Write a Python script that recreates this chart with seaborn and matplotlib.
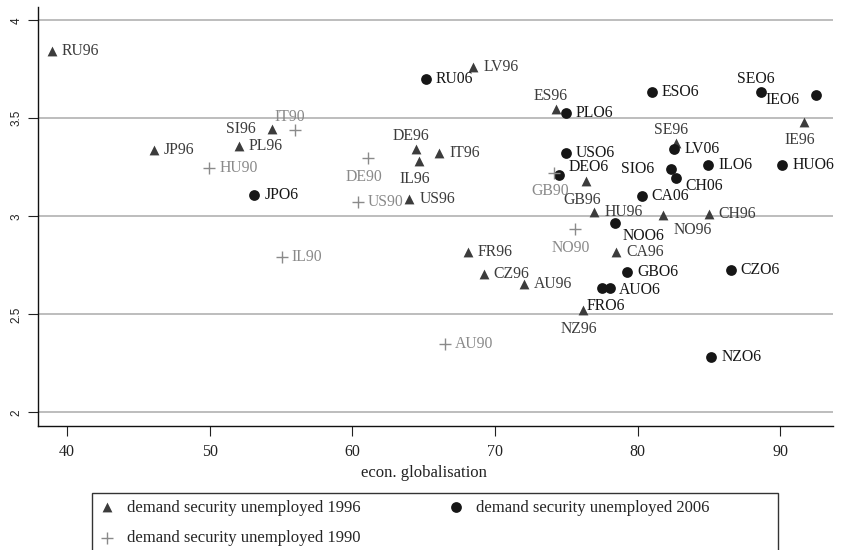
import matplotlib
matplotlib.use("Agg")
import matplotlib.pyplot as plt
import seaborn as sns
import pandas as pd
from matplotlib.patches import Rectangle

# 1996 observations (triangles)
labels_96 = ["RU96", "JP96", "SI96", "PL96", "LV96", "ES96", "DE96", "IL96", "IT96", "US96",
             "SE96", "IE96", "GB96", "HU96", "NO96", "CH96", "CA96", "FR96", "CZ96", "AU96", "NZ96"]
glob_96 = [38.93, 46.07, 54.39, 52.03, 68.48, 74.27, 64.46, 64.69, 66.09, 63.99,
           82.68, 91.67, 76.37, 76.95, 81.79, 84.99, 78.5, 68.08, 69.2, 72.05, 76.16]
demand_96 = [3.845, 3.338, 3.445, 3.359, 3.763, 3.546, 3.342, 3.284, 3.321, 3.087,
             3.372, 3.483, 3.18, 3.023, 3.007, 3.013, 2.819, 2.818, 2.707, 2.653, 2.522]

# 2006 observations (circles)
labels_06 = ["JPO6", "RU06", "PLO6", "ESO6", "SEO6", "IEO6", "USO6", "DEO6", "LV06", "SIO6",
             "CH06", "ILO6", "HUO6", "CA06", "NOO6", "GBO6", "CZO6", "AUO6", "FRO6", "NZO6"]
glob_06 = [53.13, 65.16, 74.97, 80.97, 88.63, 92.49, 74.97, 74.5, 82.58, 82.37,
           82.68, 84.94, 90.15, 80.27, 78.38, 79.26, 86.53, 77.51, 78.05, 85.17]
demand_06 = [3.109, 3.702, 3.526, 3.633, 3.633, 3.617, 3.325, 3.211, 3.342, 3.241,
             3.194, 3.26, 3.26, 3.104, 2.967, 2.717, 2.724, 2.636, 2.636, 2.284]

# 1990 observations (plus signs)
labels_90 = ["IT90", "HU90", "DE90", "US90", "GB90", "NO90", "IL90", "AU90"]
glob_90 = [55.98, 49.97, 61.11, 60.37, 74.13, 75.6, 55.04, 66.49]
demand_90 = [3.44, 3.245, 3.297, 3.071, 3.223, 2.935, 2.79, 2.348]

X_TICKS = [40, 50, 60, 70, 80, 90]
Y_TICKS = [2, 2.5, 3, 3.5, 4]
Y_TICK_LABELS = ["2", "2.5", "3", "3.5", "4"]

# label placement (clock position style), default is right of marker
LABEL_POS = {
    "SI96": "9", "ES96": "12", "DE96": "12", "IL96": "6", "SE96": "12", "IE96": "6",
    "GB96": "6", "NO96": "se2", "NZ96": "6",
    "SEO6": "12", "IEO6": "w_low", "DEO6": "ne", "SIO6": "9", "CH06": "e_low",
    "NOO6": "se", "AUO6": "e_far", "FRO6": "6",
    "IT90": "12", "DE90": "6", "GB90": "6", "NO90": "6",
}
# offsets in pixels (dx right, dy down) + horizontal alignment
OFFSETS = {
    "3": (10, 0, "left"),
    "9": (-17, 0, "right"),
    "12": (-5, -13, "center"),
    "6": (-4, 18.5, "center"),
    "se": (8.5, 13.5, "left"),
    "se2": (10.5, 15.5, "left"),
    "ne": (9, -8, "left"),
    "e_low": (9, 7.5, "left"),
    "w_low": (-16, 4.7, "right"),
    "e_far": (17, 2.3, "left"),
}

C_96 = "#3c3c3c"
C_06 = "#161616"
C_90 = "#8a8a8a"
SERIF = ["Liberation Serif", "DejaVu Serif"]


def add_labels(ax, xs, ys, labels, color):
    for x, y, lab in zip(xs, ys, labels):
        dx, dy, ha = OFFSETS[LABEL_POS.get(lab, "3")]
        ax.annotate(lab, (x, y), xytext=(dx * 0.72, -dy * 0.72), textcoords="offset points",
                    ha=ha, va="center", fontsize=11.3, color=color, family=SERIF)


def main():
    sns.set_style("white")
    plt.rcParams["font.family"] = SERIF

    df96 = pd.DataFrame({"glob": glob_96, "demand": demand_96})
    df06 = pd.DataFrame({"glob": glob_06, "demand": demand_06})
    df90 = pd.DataFrame({"glob": glob_90, "demand": demand_90})

    fig = plt.figure(figsize=(8.42, 5.5), dpi=100)
    ax = fig.add_axes([0.04477, 0.226, 0.9442, 0.7607])

    for yv in Y_TICKS:
        ax.axhline(yv, color="#ababab", lw=1.1, zorder=0)

    sns.scatterplot(data=df96, x="glob", y="demand", marker="^", s=50, color=C_96,
                    edgecolor=C_96, linewidth=0, ax=ax, label="demand security unemployed 1996", zorder=3)
    sns.scatterplot(data=df06, x="glob", y="demand", marker="o", s=60, color=C_06,
                    edgecolor=C_06, linewidth=0, ax=ax, label="demand security unemployed 2006", zorder=3)
    sns.scatterplot(data=df90, x="glob", y="demand", marker="+", s=64, color=C_90,
                    linewidth=1.0, ax=ax, label="demand security unemployed 1990", zorder=4)

    add_labels(ax, glob_96, demand_96, labels_96, C_96)
    add_labels(ax, glob_06, demand_06, labels_06, C_06)
    add_labels(ax, glob_90, demand_90, labels_90, C_90)

    ax.set_xlim(37.95, 93.67)
    ax.set_ylim(1.932, 4.066)
    ax.set_xticks(X_TICKS)
    ax.set_yticks(Y_TICKS)
    ax.set_yticklabels(Y_TICK_LABELS, rotation=90, va="center", family="Liberation Sans", fontsize=8.5)
    ax.tick_params(axis="x", length=7, width=0.8, color="#222222", labelsize=11.5, pad=6,
                   direction="out", labelcolor="#222222")
    ax.tick_params(axis="y", length=7, width=0.8, color="#222222", pad=4, direction="out",
                   labelcolor="#222222")
    ax.tick_params(bottom=True, left=True)

    for side in ["top", "right"]:
        ax.spines[side].set_visible(False)
    for side in ["left", "bottom"]:
        ax.spines[side].set_color("#111111")
        ax.spines[side].set_linewidth(1.0)

    ax.set_xlabel("econ. globalisation", fontsize=12, color="#222222")
    ax.xaxis.set_label_coords(0.486, -0.113)
    ax.xaxis.label.set_va("center")
    ax.set_ylabel("")

    handles, labs = ax.get_legend_handles_labels()
    ax.legend_.remove()
    order = [0, 2, 1]
    fig.legend([handles[i] for i in order], [labs[i] for i in order],
               loc="upper left", bbox_to_anchor=(98.7 / 842, 1 - 499.5 / 550),
               ncol=2, frameon=False, fontsize=12, borderpad=0, borderaxespad=0,
               handlelength=1.0, handletextpad=0.7, columnspacing=5.2, labelspacing=0.9)

    fig.patches.append(Rectangle((91.7 / 842, -0.01), (778.3 - 91.7) / 842, 1 - 492.7 / 550 + 0.01,
                                 transform=fig.transFigure, fill=False, edgecolor="#333333", lw=1.0))

    fig.savefig("out.png", dpi=100)


if __name__ == "__main__":
    main()
